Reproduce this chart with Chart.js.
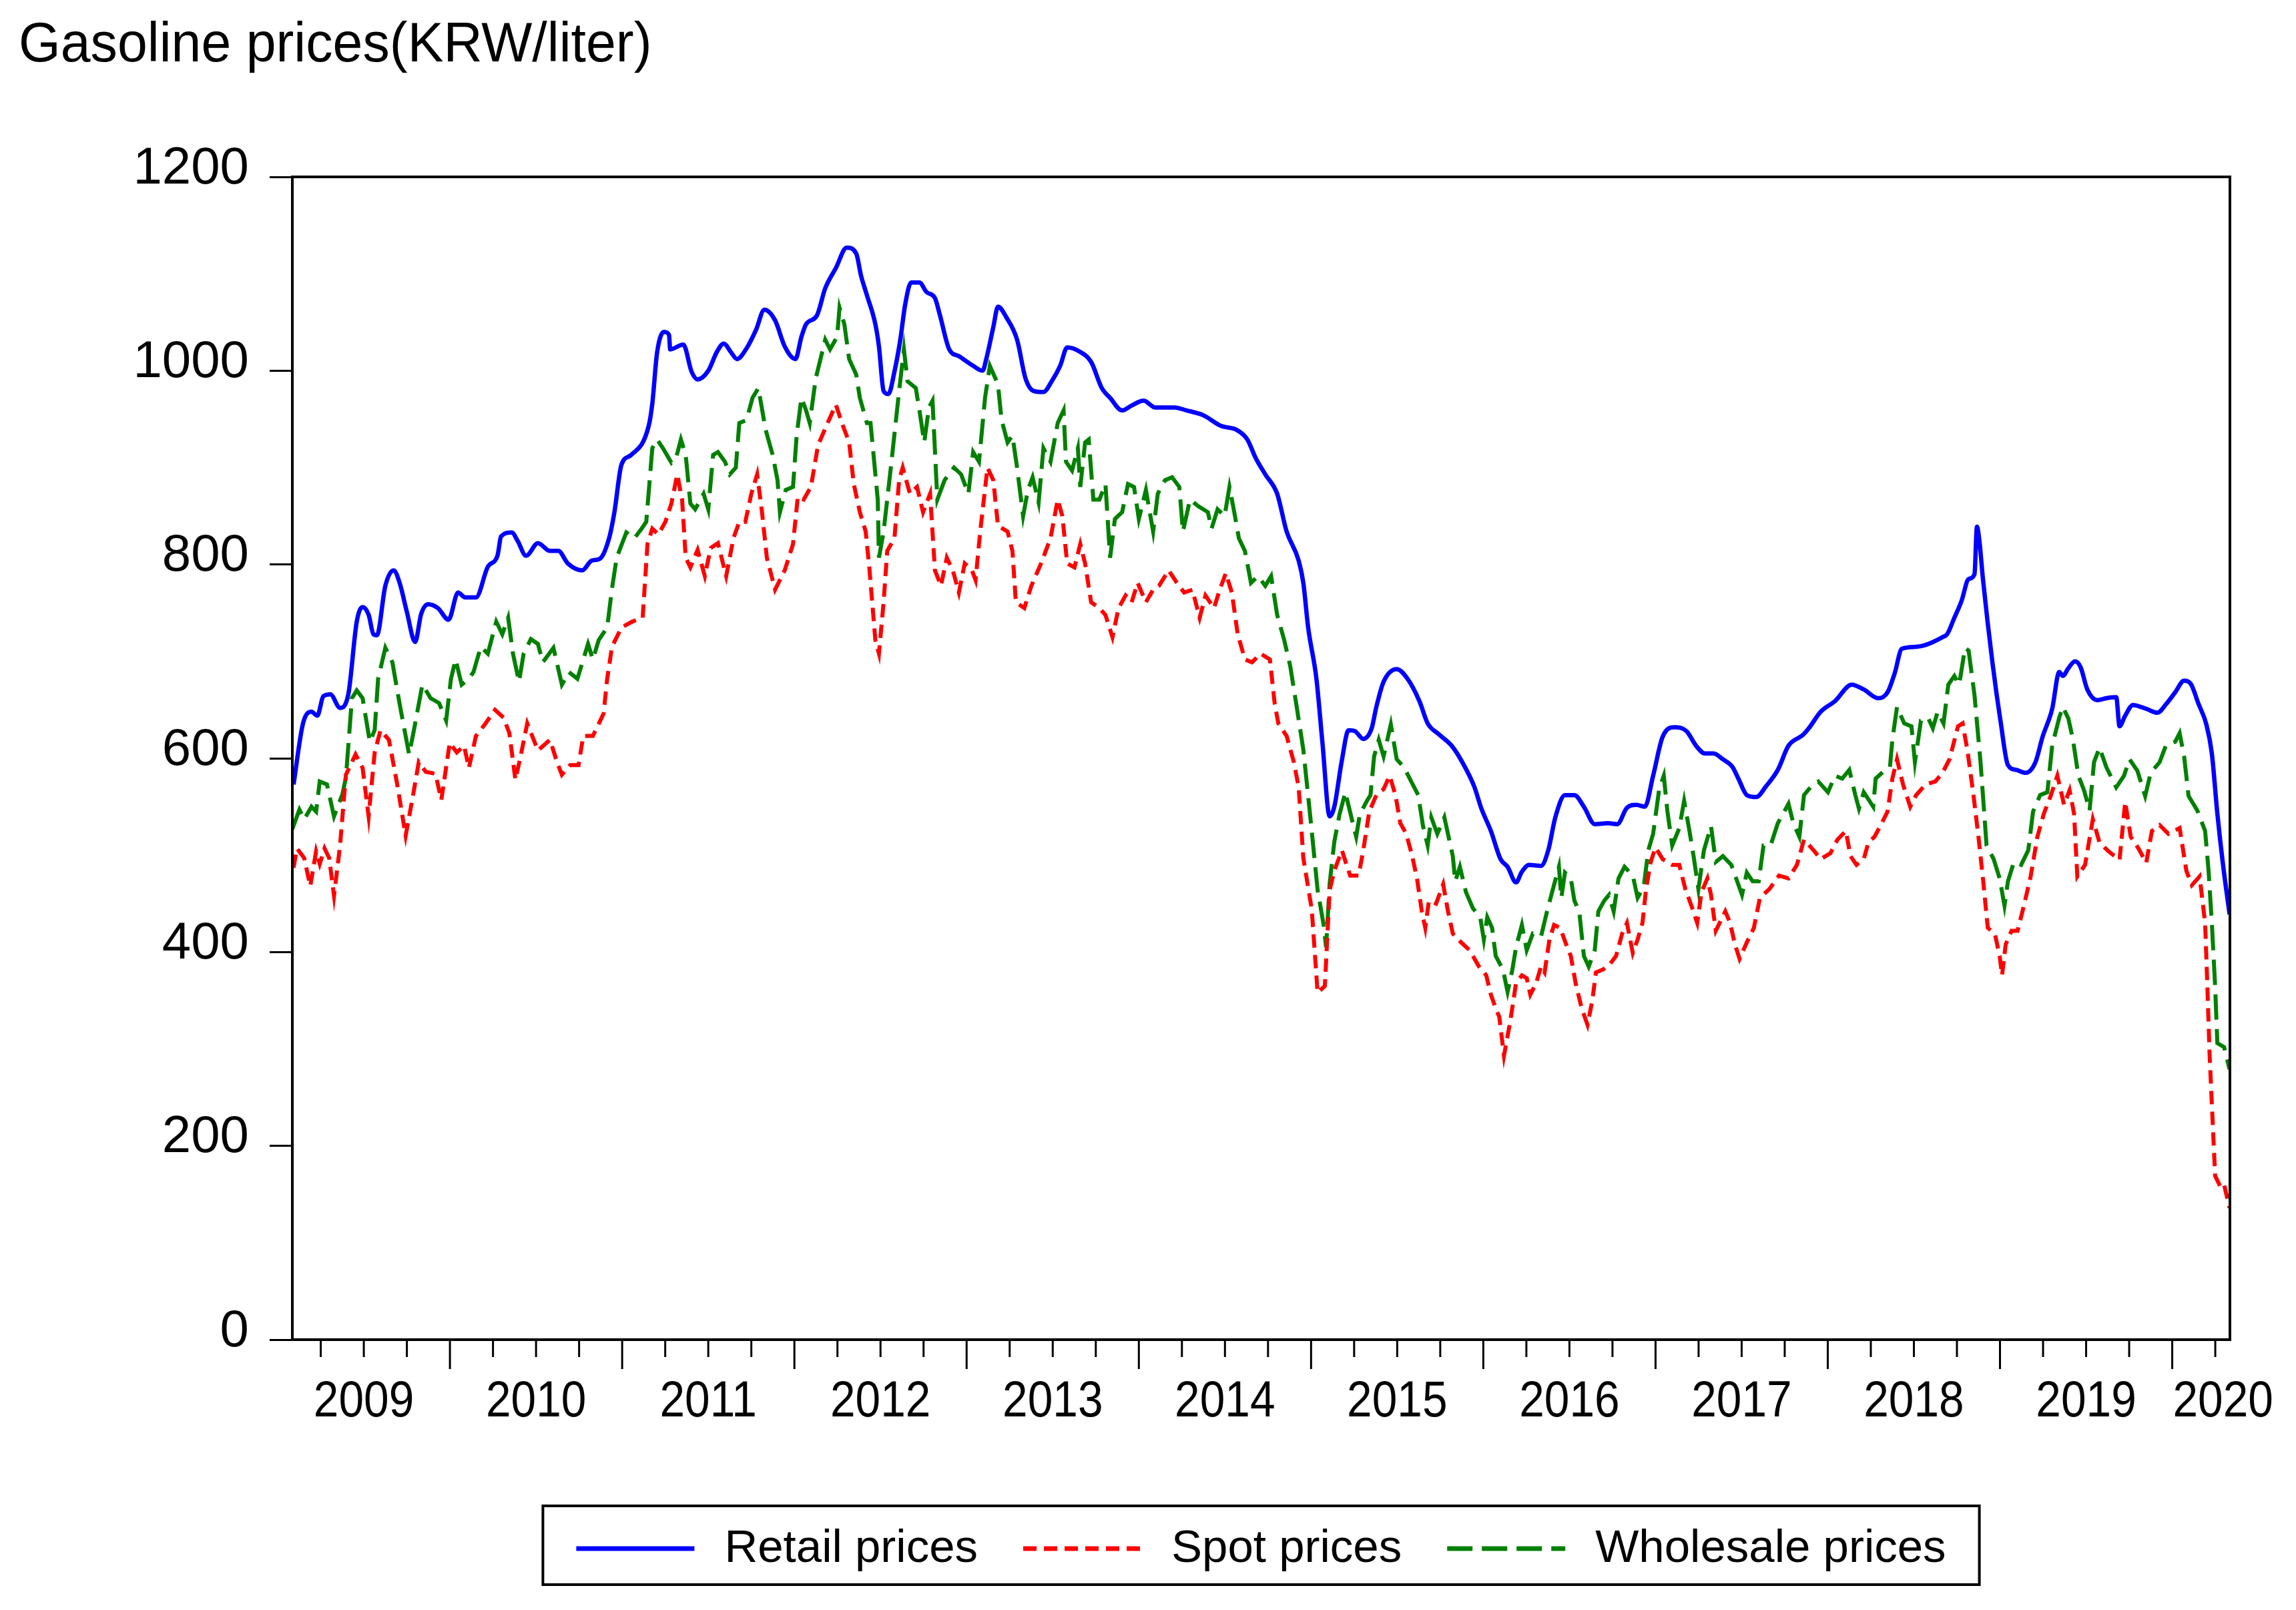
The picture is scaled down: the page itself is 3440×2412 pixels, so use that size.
<!DOCTYPE html>
<html>
<head>
<meta charset="utf-8">
<title>Gasoline prices</title>
<script src="https://cdn.jsdelivr.net/npm/chart.js@4.4.1/dist/chart.umd.min.js"></script>
<style>
  html, body { margin: 0; padding: 0; background: #fff; }
  canvas { display: block; }
</style>
</head>
<body>
<canvas id="myChart" width="3440" height="2412"></canvas>
<script>
"use strict";

// dates are decimal years, values in KRW/liter
const retailT = [2009.092,2009.147,2009.196,2009.230,2009.265,2009.306,2009.362,2009.410,2009.459,2009.493,
  2009.528,2009.556,2009.576,2009.625,2009.673,2009.708,2009.750,2009.798,2009.833,2009.874,
  2009.930,2009.992,2010.047,2010.089,2010.151,2010.221,2010.276,2010.297,2010.359,2010.394,
  2010.442,2010.511,2010.581,2010.629,2010.685,2010.768,2010.823,2010.871,2010.927,2010.955,
  2010.996,2011.052,
  2011.154,2011.175,2011.203,2011.244,2011.272,2011.279,2011.355,2011.403,2011.438,2011.500,
  2011.549,2011.590,2011.632,2011.667,2011.722,2011.777,2011.826,2011.888,2011.944,2012.006,
  2012.041,2012.068,2012.131,2012.179,2012.241,2012.304,2012.359,2012.387,2012.421,2012.470,
  2012.491,2012.518,2012.546,2012.581,2012.615,2012.643,2012.678,2012.726,2012.768,2012.816,
  2012.844,2012.899,2012.955,2013.038,2013.093,2013.114,
  2013.155,2013.182,2013.231,2013.293,2013.342,2013.390,2013.446,2013.494,2013.543,2013.584,
  2013.653,2013.723,2013.785,2013.833,2013.903,2013.958,2014.027,2014.097,2014.207,2014.277,
  2014.374,2014.477,2014.567,2014.630,2014.678,2014.734,2014.803,2014.858,2014.928,2014.955,
  2014.983,2015.031,2015.066,2015.108,2015.135,2015.177,2015.218,
  2015.255,2015.303,2015.352,2015.379,2015.421,2015.497,2015.560,2015.629,2015.677,2015.740,
  2015.816,2015.878,2015.947,2015.989,2016.044,2016.100,2016.141,2016.190,2016.224,2016.266,
  2016.335,2016.377,2016.418,2016.474,2016.529,2016.584,2016.647,2016.723,2016.778,2016.834,
  2016.889,2016.938,2016.986,2017.041,2017.111,2017.180,2017.235,
  2017.287,2017.336,2017.391,2017.447,2017.481,2017.530,2017.585,2017.641,2017.710,2017.772,
  2017.855,2017.890,2017.959,2018.042,2018.139,2018.209,2018.292,2018.347,2018.389,2018.430,
  2018.513,2018.569,2018.666,2018.693,2018.735,2018.776,2018.818,2018.852,2018.866,2018.880,
  2018.901,2018.956,2019.005,2019.046,2019.095,2019.150,2019.206,2019.247,2019.303,2019.344,
  2019.365,
  2019.397,2019.436,2019.468,2019.507,2019.565,2019.617,2019.675,2019.694,2019.727,2019.772,
  2019.849,2019.914,2019.965,2020.017,2020.069,2020.107,2020.153,2020.198,2020.230,2020.262,
  2020.295,2020.333];
const retailV = [573,636,648,644,664,666,652,666,741,756,
  748,728,727,778,794,781,751,720,749,759,
  755,743,771,766,766,798,809,829,833,824,
  809,822,814,814,801,794,804,806,829,854,
  903,913,
  943,966,1019,1040,1037,1022,1027,999,991,1000,
  1019,1028,1019,1012,1023,1042,1063,1052,1025,1012,
  1035,1048,1057,1085,1106,1127,1121,1098,1078,1048,
  1025,979,976,999,1032,1068,1091,1091,1081,1075,
  1058,1022,1015,1005,1000,1012,
  1045,1066,1055,1032,992,979,978,989,1005,1024,
  1020,1009,982,972,959,964,969,962,962,959,
  954,943,939,929,910,893,873,834,804,781,
  735,682,616,540,550,596,629,
  628,620,631,653,679,692,682,659,636,625,
  613,596,571,548,525,496,488,472,483,490,
  489,505,539,562,562,550,532,533,532,549,
  552,550,582,622,632,628,613,
  605,605,599,591,579,562,560,571,588,613,
  624,631,648,659,676,671,662,668,688,713,
  715,717,725,728,745,762,785,790,839,825,
  785,699,636,593,588,585,596,622,651,689,
  685,
  693,700,694,671,660,662,663,633,644,655,
  651,647,656,668,680,677,656,635,605,543,
  490,439];

const spotT = [2009.092,2009.112,2009.154,2009.189,2009.223,2009.244,2009.272,2009.299,2009.327,2009.362,
  2009.396,2009.452,2009.493,2009.528,2009.563,2009.597,2009.646,2009.694,2009.743,2009.784,
  2009.819,2009.860,2009.916,2009.950,2009.999,2010.040,2010.082,2010.110,2010.151,2010.207,
  2010.262,2010.311,2010.345,2010.380,2010.408,2010.449,2010.511,2010.581,2010.622,2010.650,
  2010.698,2010.747,2010.774,2010.830,2010.892,2010.913,2010.941,2010.996,2011.058,
  2011.119,2011.147,2011.175,2011.210,2011.251,2011.286,2011.320,2011.348,2011.369,2011.396,
  2011.438,2011.480,2011.514,2011.556,2011.604,2011.646,2011.680,2011.715,2011.750,2011.784,
  2011.812,2011.840,2011.888,2011.944,2011.992,2012.020,2012.054,2012.096,2012.137,2012.193,
  2012.241,2012.276,2012.318,2012.345,2012.380,2012.414,2012.435,2012.470,2012.491,2012.518,
  2012.539,2012.581,2012.608,2012.629,2012.671,2012.712,2012.747,2012.788,2012.816,2012.851,
  2012.885,2012.920,2012.955,2012.989,2013.031,2013.052,2013.079,2013.121,
  2013.155,2013.182,2013.238,2013.266,2013.286,2013.335,2013.376,2013.432,2013.487,2013.529,
  2013.556,2013.584,2013.626,2013.660,2013.688,2013.723,2013.771,2013.806,2013.847,2013.882,
  2013.923,2013.958,2013.993,2014.041,2014.083,2014.117,2014.173,2014.221,2014.263,2014.311,
  2014.353,2014.387,2014.436,2014.470,2014.505,2014.540,2014.574,2014.616,2014.657,2014.706,
  2014.761,2014.789,2014.810,2014.858,2014.900,2014.928,2014.955,2015.004,2015.038,2015.080,
  2015.108,2015.135,
  2015.179,2015.206,2015.227,2015.276,2015.303,2015.338,2015.379,2015.421,2015.456,2015.490,
  2015.518,2015.553,2015.587,2015.615,2015.643,2015.663,2015.684,2015.726,2015.767,2015.795,
  2015.823,2015.871,2015.920,2015.975,2016.017,2016.044,2016.072,2016.093,2016.120,2016.155,
  2016.190,2016.224,2016.252,2016.273,2016.307,2016.335,2016.356,2016.384,2016.411,2016.446,
  2016.481,2016.508,2016.536,2016.571,2016.605,2016.633,2016.654,2016.695,2016.737,2016.771,
  2016.806,2016.834,2016.868,2016.896,2016.924,2016.945,2016.972,2017.000,2017.041,2017.097,
  2017.138,2017.173,2017.208,2017.242,
  2017.267,2017.301,2017.322,2017.350,2017.405,2017.433,2017.461,2017.488,2017.530,2017.571,
  2017.606,2017.661,2017.717,2017.772,2017.821,2017.862,2017.918,2017.959,2018.015,2018.056,
  2018.105,2018.132,2018.167,2018.209,2018.236,2018.271,2018.305,2018.347,2018.375,2018.402,
  2018.437,2018.479,2018.513,2018.569,2018.624,2018.666,2018.707,2018.756,2018.783,2018.811,
  2018.846,2018.873,2018.901,2018.929,2018.970,2018.998,2019.012,2019.033,2019.067,2019.102,
  2019.139,2019.178,2019.217,2019.255,2019.294,2019.333,2019.372,2019.404,2019.430,2019.449,
  2019.494,2019.539,2019.578,2019.630,2019.694,2019.727,2019.759,2019.804,2019.849,2019.882,
  2019.927,2019.978,2020.043,2020.082,2020.114,2020.159,2020.191,2020.204,2020.217,2020.237,
  2020.249,2020.282,2020.301,2020.333];
const spotV = [487,507,497,468,504,491,507,497,458,510,
  583,604,590,540,606,629,619,573,520,560,
  596,586,584,557,616,606,613,590,623,636,
  650,642,626,578,600,636,608,619,596,583,
  593,593,623,623,646,682,715,735,741,
  745,821,837,831,844,863,893,867,807,797,
  815,788,817,822,788,827,844,844,873,893,
  854,807,774,794,821,870,867,880,923,946,
  965,946,926,883,854,834,797,722,708,761,
  814,827,887,900,873,880,854,873,794,778,
  807,794,771,801,794,784,834,900,
  887,840,834,814,761,755,778,801,827,867,
  850,801,797,821,801,761,755,748,725,755,
  768,761,781,761,774,778,794,781,771,774,
  745,768,755,774,791,771,728,702,699,708,
  702,656,636,623,596,570,497,444,358,365,
  464,484,
  505,490,479,479,505,545,562,568,582,562,
  533,522,499,476,442,425,453,450,470,442,
  419,410,402,385,376,356,342,333,293,327,
  368,376,373,356,368,385,379,413,428,425,
  408,396,368,342,325,350,379,382,388,396,
  419,430,399,413,430,465,493,508,496,490,
  490,465,448,430,
  462,476,459,422,442,430,408,393,410,425,
  456,465,479,476,490,516,505,496,502,516,
  525,499,490,496,513,519,530,545,579,599,
  573,550,562,573,576,585,599,633,636,608,
  562,522,476,425,419,396,376,408,422,422,
  448,478,519,543,561,582,552,567,543,478,
  490,537,513,504,495,555,519,507,492,525,
  531,522,528,484,469,478,430,365,294,216,
  169,157,160,136];

const wholesaleT = [2009.085,2009.126,2009.154,2009.196,2009.223,2009.244,2009.286,2009.327,2009.376,2009.396,
  2009.431,2009.459,2009.493,2009.535,2009.563,2009.583,2009.625,2009.666,2009.708,2009.763,
  2009.791,2009.840,2009.888,2009.937,2009.978,2010.006,2010.033,2010.068,2010.110,2010.137,
  2010.179,2010.220,2010.269,2010.304,2010.338,2010.366,2010.401,2010.428,2010.470,2010.511,
  2010.539,2010.601,2010.650,2010.691,2010.740,2010.802,2010.830,2010.864,2010.913,2010.941,
  2010.968,2011.024,
  2011.071,2011.113,2011.140,2011.175,2011.203,2011.237,2011.286,2011.313,2011.341,2011.369,
  2011.396,2011.424,2011.473,2011.500,2011.528,2011.556,2011.597,2011.625,2011.660,2011.680,
  2011.722,2011.757,2011.791,2011.833,2011.874,2011.902,2011.916,2011.950,2011.992,2012.013,
  2012.041,2012.068,2012.089,2012.124,2012.179,2012.207,2012.248,2012.262,2012.290,2012.318,
  2012.359,2012.380,2012.421,2012.442,2012.456,2012.484,2012.491,2012.518,2012.560,2012.608,
  2012.636,2012.657,2012.705,2012.726,2012.754,2012.781,2012.802,2012.830,2012.872,2012.927,
  2012.968,2013.010,2013.038,2013.072,2013.107,2013.135,
  2013.182,2013.203,2013.238,2013.266,2013.293,2013.328,2013.356,2013.383,2013.418,2013.446,
  2013.487,2013.529,2013.563,2013.577,2013.612,2013.646,2013.660,2013.688,2013.709,2013.736,
  2013.771,2013.806,2013.833,2013.861,2013.903,2013.937,2013.972,2014.000,2014.041,2014.083,
  2014.110,2014.152,2014.193,2014.235,2014.256,2014.297,2014.346,2014.401,2014.422,2014.457,
  2014.498,2014.526,2014.554,2014.581,2014.616,2014.651,2014.692,2014.734,2014.768,2014.803,
  2014.844,2014.879,2014.914,2014.955,2014.997,2015.038,2015.073,2015.087,2015.108,2015.135,
  2015.165,2015.199,2015.234,2015.262,2015.283,2015.324,2015.345,2015.366,2015.393,2015.421,
  2015.463,2015.497,2015.539,2015.573,2015.622,2015.650,2015.677,2015.698,2015.733,2015.774,
  2015.802,2015.823,2015.837,2015.864,2015.899,2015.940,2015.982,2016.003,2016.023,2016.051,
  2016.072,2016.114,2016.141,2016.169,2016.190,2016.224,2016.252,2016.287,2016.335,2016.370,
  2016.404,2016.439,2016.453,2016.474,2016.508,2016.529,2016.557,2016.584,2016.612,2016.647,
  2016.668,2016.702,2016.730,2016.757,2016.785,2016.820,2016.868,2016.896,2016.931,2016.958,
  2016.986,2017.021,2017.048,2017.069,2017.097,2017.138,2017.166,2017.194,2017.221,2017.249,
  2017.281,2017.322,2017.350,2017.391,2017.440,2017.502,2017.530,2017.564,2017.599,2017.627,
  2017.668,2017.710,2017.772,2017.800,2017.835,2017.862,2017.904,2017.945,2018.001,2018.042,
  2018.084,2018.125,2018.160,2018.181,2018.209,2018.264,2018.278,2018.333,2018.361,2018.375,
  2018.402,2018.444,2018.486,2018.506,2018.541,2018.582,2018.610,2018.638,2018.672,2018.700,
  2018.735,2018.763,2018.797,2018.818,2018.852,2018.887,2018.922,2018.963,2018.998,2019.026,
  2019.046,2019.081,2019.123,2019.164,2019.192,2019.233,2019.275,2019.303,2019.344,
  2019.365,2019.397,2019.423,2019.455,2019.488,2019.520,2019.546,2019.578,2019.617,2019.675,
  2019.720,2019.752,2019.798,2019.843,2019.875,2019.927,2019.965,2020.017,2020.043,2020.069,
  2020.095,2020.146,2020.191,2020.211,2020.230,2020.249,2020.262,2020.301,2020.333];
const wholesaleV = [527,547,537,550,545,576,573,540,563,580,
  662,670,662,617,629,682,714,699,656,604,
  629,676,662,657,639,682,702,676,682,689,
  715,708,741,728,745,708,679,708,723,718,
  699,714,676,689,682,718,702,722,735,775,
  807,833,
  827,837,844,920,929,920,905,910,929,913,
  863,857,873,857,913,916,906,893,900,946,
  949,972,982,939,913,887,854,877,880,933,
  972,959,946,992,1032,1022,1035,1065,1048,1012,
  996,972,946,946,920,867,807,834,900,979,
  1022,989,982,959,926,962,969,867,887,900,
  893,873,916,906,972,1005,
  986,949,926,933,900,850,877,890,864,920,
  906,946,959,906,897,920,880,926,929,867,
  867,883,807,847,854,883,880,847,877,834,
  873,887,890,880,834,867,860,854,837,857,
  850,880,854,827,814,781,788,778,788,748,
  722,695,656,609,537,464,428,405,471,514,
  542,565,539,519,542,556,562,602,619,602,
  635,599,591,579,562,530,510,539,522,539,
  516,499,473,488,462,445,436,413,436,425,
  396,382,359,382,405,428,402,419,416,442,
  465,488,456,482,476,453,442,396,385,402,
  442,453,459,442,476,488,479,456,467,505,
  522,568,582,545,510,528,556,528,499,465,
  505,530,493,499,490,459,482,473,473,510,
  510,533,553,533,519,562,571,576,565,582,
  579,588,562,548,565,550,579,588,591,619,
  653,636,633,596,639,642,631,648,636,676,
  685,676,714,711,665,596,510,496,476,448,
  473,493,490,505,545,562,565,613,642,
  653,641,620,582,567,546,596,611,591,570,
  582,599,587,561,585,596,614,617,626,602,
  561,546,525,484,430,365,306,302,279];

const years = [2009, 2010, 2011, 2012, 2013, 2014, 2015, 2016, 2017, 2018, 2019, 2020];

const FONT = "'Liberation Sans', Arial, Helvetica, sans-serif";
Chart.defaults.font.family = FONT;
Chart.defaults.color = "#000";

function toPoints(t, v) {
  return t.map((x, i) => ({ x: x, y: v[i] }));
}

// frame, bottom time axis, title and the boxed legend
const decorations = {
  id: "decorations",
  afterDraw(chart) {
    const ctx = chart.ctx;
    const area = chart.chartArea;
    const xs = chart.scales.x;
    ctx.save();
    ctx.strokeStyle = "#000";
    ctx.fillStyle = "#000";
    ctx.setLineDash([]);

    ctx.lineWidth = 4;
    ctx.strokeRect(area.left, area.top, area.right - area.left, area.bottom - area.top);

    // quarter ticks, longer ones at the year boundaries
    ctx.lineWidth = 3;
    for (let q = Math.ceil(xs.min * 4); q <= Math.floor(xs.max * 4); q++) {
      const px = xs.getPixelForValue(q / 4);
      const len = q % 4 === 0 ? 42 : 24;
      ctx.beginPath();
      ctx.moveTo(px, area.bottom + 2);
      ctx.lineTo(px, area.bottom + 2 + len);
      ctx.stroke();
    }

    ctx.font = "76px " + FONT;
    ctx.textAlign = "center";
    ctx.textBaseline = "alphabetic";
    years.forEach((yr) => {
      const px = xs.getPixelForValue(Math.min(yr + 0.5, xs.max - 0.04));
      ctx.save();
      ctx.translate(px, area.bottom + 115);
      ctx.scale(0.89, 1);
      ctx.fillText(String(yr), 0, 0);
      ctx.restore();
    });

    // title
    ctx.font = "84px " + FONT;
    ctx.textAlign = "left";
    ctx.save();
    ctx.translate(28, 92);
    ctx.scale(0.96, 1);
    ctx.fillText("Gasoline prices(KRW/liter)", 0, 0);
    ctx.restore();

    // legend
    ctx.font = "69px " + FONT;
    const sampleW = 177, gapText = 45, gapItem = 68, padX = 50;
    const items = chart.data.datasets;
    let total = 0;
    items.forEach((ds, i) => {
      total += sampleW + gapText + ctx.measureText(ds.label).width + (i ? gapItem : 0);
    });
    const boxW = total + 2 * padX;
    let x = (area.left + area.right) / 2 - boxW / 2;
    const top = area.bottom + 249;
    ctx.lineWidth = 4;
    ctx.strokeRect(x, top, boxW, 118);
    x += padX;
    items.forEach((ds) => {
      ctx.save();
      ctx.strokeStyle = ds.borderColor;
      ctx.lineWidth = 7;
      ctx.setLineDash(ds.borderDash || []);
      ctx.beginPath();
      ctx.moveTo(x, top + 64);
      ctx.lineTo(x + sampleW, top + 64);
      ctx.stroke();
      ctx.restore();
      x += sampleW + gapText;
      ctx.fillText(ds.label, x, top + 84);
      x += ctx.measureText(ds.label).width + gapItem;
    });
    ctx.restore();
  }
};

const ctx = document.getElementById("myChart").getContext("2d");
const myChart = new Chart(ctx, {
  type: "line",
  data: {
    datasets: [
      {
        label: "Retail prices",
        data: toPoints(retailT, retailV),
        borderColor: "#0000ff",
        borderWidth: 6.5,
        pointRadius: 0,
        tension: 0.4,
        cubicInterpolationMode: "monotone"
      },
      {
        label: "Spot prices",
        data: toPoints(spotT, spotV),
        borderColor: "#ff0000",
        borderWidth: 6,
        borderDash: [20, 11],
        pointRadius: 0,
        tension: 0
      },
      {
        label: "Wholesale prices",
        data: toPoints(wholesaleT, wholesaleV),
        borderColor: "#008000",
        borderWidth: 6,
        borderDash: [38, 14],
        pointRadius: 0,
        tension: 0
      }
    ]
  },
  options: {
    responsive: false,
    animation: false,
    devicePixelRatio: 1,
    layout: { padding: { left: 0, top: 265, right: 99, bottom: 405 } },
    plugins: {
      legend: { display: false },
      tooltip: { enabled: false }
    },
    scales: {
      x: { type: "linear", min: 2009.085, max: 2020.335, display: false },
      y: {
        min: 0,
        max: 1200,
        afterFit(scale) { scale.width = 438; },
        ticks: {
          stepSize: 200,
          font: { size: 78 },
          color: "#000",
          padding: 31,
          labelOffset: -12,
          callback: (value) => String(value)
        },
        grid: { drawOnChartArea: false, drawTicks: true, tickLength: 34, color: "#000", lineWidth: 3 },
        border: { display: false }
      }
    }
  },
  plugins: [decorations]
});
</script>
</body>
</html>
